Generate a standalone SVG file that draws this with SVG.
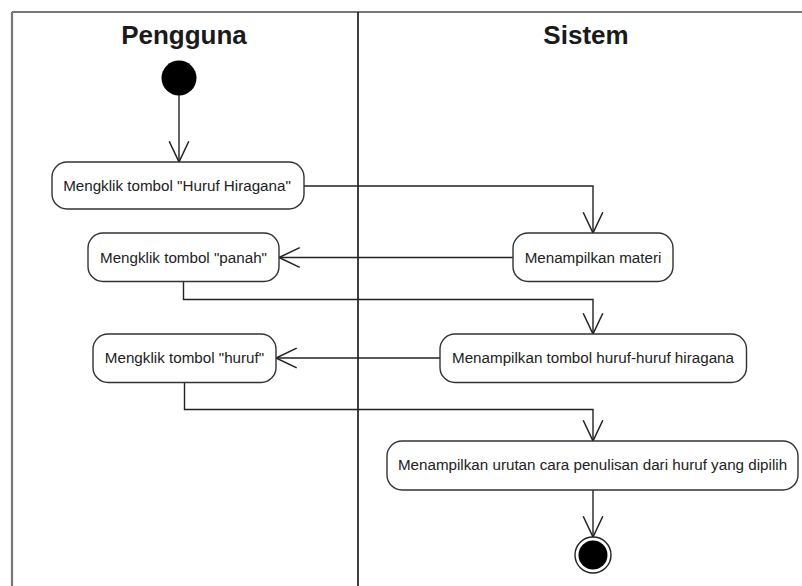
<svg xmlns="http://www.w3.org/2000/svg" width="802" height="586" viewBox="0 0 802 586">
  <style>
    .title { font-family: "Liberation Sans", Arial, sans-serif; font-size: 26px; font-weight: bold; fill: #1a1a1a; text-anchor: middle; }
    .label { font-family: "Liberation Sans", Arial, sans-serif; font-size: 15.2px; fill: #222; text-anchor: middle; }
    .act { fill: #fff; stroke: #333; stroke-width: 1.4; }
    .flow { fill: none; stroke: #222; stroke-width: 1.4; }
  </style>
  <defs>
    <marker id="open" markerUnits="userSpaceOnUse" markerWidth="24" markerHeight="24" viewBox="-20 -10 22 20" refX="0" refY="0" orient="auto">
      <path d="M-19,-9 L0,0 L-19,9" fill="none" stroke="#222" stroke-width="1.4"/>
    </marker>
  </defs>
  <rect width="802" height="586" fill="#fff"/>

  <!-- swimlane frame -->
  <g id="lanes">
    <line x1="12" y1="12" x2="802" y2="12" stroke="#777" stroke-width="2.2"/>
    <line x1="12" y1="12" x2="12" y2="586" stroke="#777" stroke-width="2.2"/>
    <line x1="358" y1="12" x2="358" y2="586" stroke="#111" stroke-width="1.6"/>
    <text class="title" x="184" y="44">Pengguna</text>
    <text class="title" x="586" y="44">Sistem</text>
  </g>

  <!-- control flows -->
  <g id="connectors">
    <path class="flow" d="M179,95 V162" marker-end="url(#open)"/>
    <path class="flow" d="M304,186 H593 V233" marker-end="url(#open)"/>
    <path class="flow" d="M513,257.5 H279" marker-end="url(#open)"/>
    <path class="flow" d="M183.5,282 V299.5 H593 V334" marker-end="url(#open)"/>
    <path class="flow" d="M440,358 H276" marker-end="url(#open)"/>
    <path class="flow" d="M184.5,383 V409.5 H593 V441" marker-end="url(#open)"/>
    <path class="flow" d="M593,490 V537" marker-end="url(#open)"/>
  </g>

  <g id="start">
    <circle cx="179" cy="78" r="17.5" fill="#000"/>
  </g>

  <g id="klik-hiragana">
    <rect class="act" x="52" y="162" width="252" height="47" rx="15"/>
    <text class="label" x="177" y="190.5">Mengklik tombol "Huruf Hiragana"</text>
  </g>

  <g id="tampil-materi">
    <rect class="act" x="513" y="233" width="160" height="48.5" rx="15"/>
    <text class="label" x="593" y="262.5">Menampilkan materi</text>
  </g>

  <g id="klik-panah">
    <rect class="act" x="88" y="233" width="191" height="48.5" rx="15"/>
    <text class="label" x="183.5" y="262.5">Mengklik tombol "panah"</text>
  </g>

  <g id="tampil-tombol">
    <rect class="act" x="440" y="334" width="306.5" height="48.5" rx="15"/>
    <text class="label" x="593" y="363">Menampilkan tombol huruf-huruf hiragana</text>
  </g>

  <g id="klik-huruf">
    <rect class="act" x="93" y="334" width="183" height="48.5" rx="15"/>
    <text class="label" x="184.5" y="363">Mengklik tombol "huruf"</text>
  </g>

  <g id="tampil-urutan">
    <rect class="act" x="387" y="441" width="411" height="49" rx="15"/>
    <text class="label" x="592.5" y="470">Menampilkan urutan cara penulisan dari huruf yang dipilih</text>
  </g>

  <g id="end">
    <circle cx="593" cy="555" r="18" fill="#fff" stroke="#222" stroke-width="1.4"/>
    <circle cx="593" cy="555" r="14.5" fill="#000"/>
  </g>
</svg>
